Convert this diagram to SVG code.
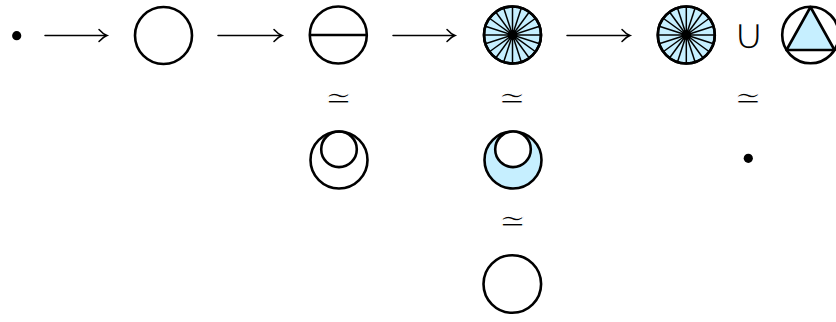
<svg xmlns="http://www.w3.org/2000/svg" width="836" height="322" viewBox="0 0 836 322">
<defs>
<style>
.c{fill:none;stroke:#000;stroke-width:2.6}
.f{fill:#c6efff;stroke:#000;stroke-width:2.6}
.w{fill:#fff;stroke:#000;stroke-width:2.6}
.a{fill:none;stroke:#000;stroke-width:1.5;stroke-linecap:round}
.sp{stroke:#000;stroke-width:1.5}
.t{font-family:"DejaVu Sans",sans-serif;fill:#000;text-anchor:middle;stroke:#fff}
.eq{font-size:33px;stroke-width:1.2px}
</style>
<g id="spokes">
<line class="sp" x1="0" y1="-28.5" x2="0" y2="28.5"/>
<line class="sp" x1="0" y1="-28.5" x2="0" y2="28.5" transform="rotate(18)"/>
<line class="sp" x1="0" y1="-28.5" x2="0" y2="28.5" transform="rotate(36)"/>
<line class="sp" x1="0" y1="-28.5" x2="0" y2="28.5" transform="rotate(54)"/>
<line class="sp" x1="0" y1="-28.5" x2="0" y2="28.5" transform="rotate(72)"/>
<line class="sp" x1="0" y1="-28.5" x2="0" y2="28.5" transform="rotate(90)"/>
<line class="sp" x1="0" y1="-28.5" x2="0" y2="28.5" transform="rotate(108)"/>
<line class="sp" x1="0" y1="-28.5" x2="0" y2="28.5" transform="rotate(126)"/>
<line class="sp" x1="0" y1="-28.5" x2="0" y2="28.5" transform="rotate(144)"/>
<line class="sp" x1="0" y1="-28.5" x2="0" y2="28.5" transform="rotate(162)"/>
<circle r="5" fill="#000"/>
</g>
</defs>
<rect width="836" height="322" fill="#fff"/>
<g id="connectors">
<path class="a" d="M45,35.5 H107 M99,29.5 Q103,34 107,35.5 Q103,37 99,41.5"/>
<path class="a" d="M218,35.5 H282 M274,29.5 Q278,34 282,35.5 Q278,37 274,41.5"/>
<path class="a" d="M393,35.5 H455 M447,29.5 Q451,34 455,35.5 Q451,37 447,41.5"/>
<path class="a" d="M567,35.5 H630 M622,29.5 Q626,34 630,35.5 Q626,37 622,41.5"/>
</g>
<g id="point1"><circle cx="16.7" cy="35.7" r="4.6" fill="#000"/></g>
<g id="circle1"><circle class="c" cx="163.5" cy="35.5" r="28.5"/></g>
<g id="circle2">
<circle class="c" cx="338.3" cy="35" r="28.5"/>
<line x1="309.8" y1="35" x2="366.8" y2="35" stroke="#000" stroke-width="2.6"/>
</g>
<g id="wheel1">
<circle class="f" cx="512.5" cy="35" r="28.5"/>
<use href="#spokes" transform="translate(512.5,35)"/>
<circle class="c" cx="512.5" cy="35" r="28.5"/>
</g>
<g id="wheel2">
<circle class="f" cx="686.3" cy="35" r="28.5"/>
<use href="#spokes" transform="translate(686.3,35)"/>
<circle class="c" cx="686.3" cy="35" r="28.5"/>
</g>
<g id="union"><text class="t" x="748.5" y="49" font-size="44" stroke-width="1.5">∪</text></g>
<g id="triangle-circle">
<circle class="c" cx="810.5" cy="35" r="28.3"/>
<polygon points="810.5,7 786.5,50 834.5,50" fill="#c6efff" stroke="#000" stroke-width="2.6" stroke-linejoin="round"/>
</g>
<g id="eq1"><text class="t eq" x="338.5" y="109">≃</text></g>
<g id="eq2"><text class="t eq" x="512" y="109">≃</text></g>
<g id="eq3"><text class="t eq" x="748" y="109">≃</text></g>
<g id="eq4"><text class="t eq" x="512.5" y="232">≃</text></g>
<g id="nested1">
<circle class="c" cx="339" cy="160" r="28.5"/>
<circle class="c" cx="339" cy="149.3" r="17.8"/>
</g>
<g id="nested2">
<circle class="f" cx="513" cy="160" r="28.5"/>
<circle class="w" cx="513" cy="149.3" r="17.8"/>
</g>
<g id="point2"><circle cx="748.3" cy="158.3" r="4.6" fill="#000"/></g>
<g id="circle3"><circle class="c" cx="512.3" cy="284" r="28.8"/></g>
</svg>
